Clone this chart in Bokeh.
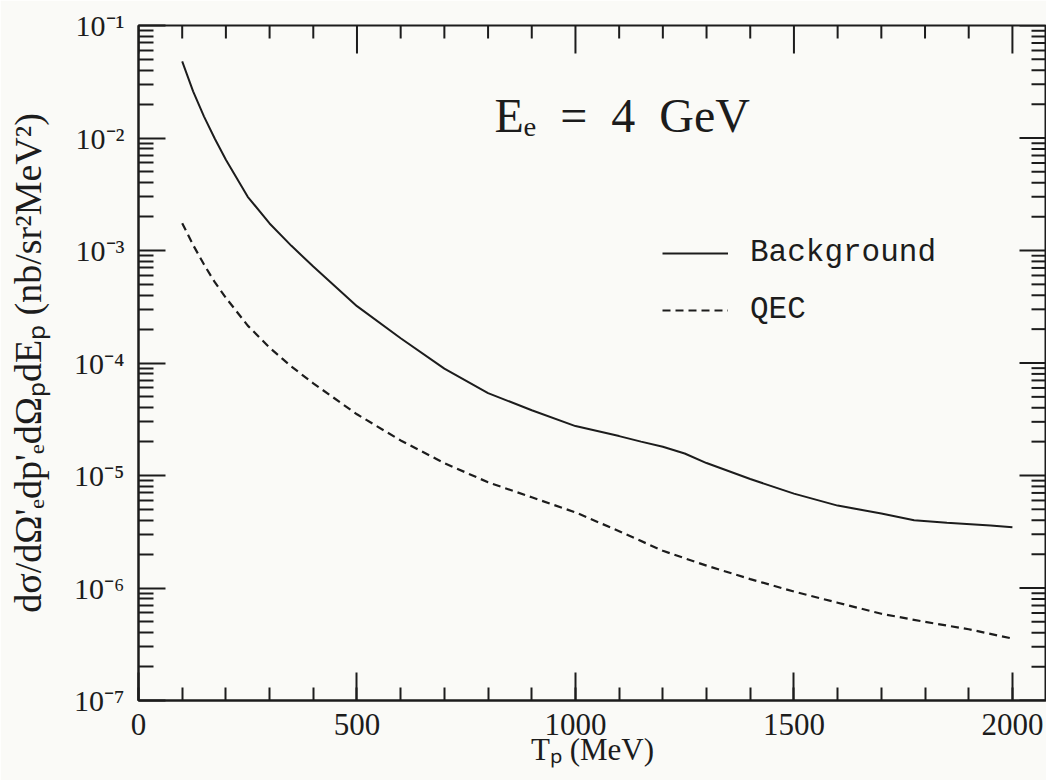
import math
from bokeh.plotting import figure
from bokeh.models import FixedTicker, Legend, LegendItem, Label
from bokeh.embed import file_html
from bokeh.resources import INLINE

# ---- data ----
tp_background = [100, 125, 150, 175, 200, 250, 300, 350, 400, 500, 600, 700, 800, 900,
                 1000, 1100, 1150, 1200, 1250, 1300, 1400, 1500, 1600, 1700, 1775, 1850,
                 1950, 2000]
background = [4.8e-2, 2.6e-2, 1.55e-2, 9.8e-3, 6.4e-3, 3.0e-3, 1.74e-3, 1.1e-3, 7.2e-4,
              3.2e-4, 1.66e-4, 8.9e-5, 5.4e-5, 3.8e-5, 2.75e-5, 2.24e-5, 2.0e-5, 1.8e-5,
              1.57e-5, 1.29e-5, 9.3e-6, 6.9e-6, 5.4e-6, 4.6e-6, 4.0e-6, 3.8e-6, 3.6e-6,
              3.47e-6]

tp_qec = [100, 125, 150, 175, 200, 250, 300, 350, 400, 500, 600, 700, 800, 900, 1000,
          1100, 1200, 1300, 1400, 1500, 1600, 1700, 1800, 1900, 2000]
qec = [1.75e-3, 1.12e-3, 7.5e-4, 5.2e-4, 3.8e-4, 2.15e-4, 1.37e-4, 9.3e-5, 6.6e-5,
       3.5e-5, 2.05e-5, 1.29e-5, 8.7e-6, 6.4e-6, 4.7e-6, 3.2e-6, 2.14e-6, 1.58e-6,
       1.2e-6, 9.3e-7, 7.4e-7, 5.9e-7, 5.0e-7, 4.3e-7, 3.55e-7]

x_major_ticks = [0, 500, 1000, 1500, 2000]
x_minor_ticks = list(range(0, 2100, 100))
y_major_ticks = [1e-7, 1e-6, 1e-5, 1e-4, 1e-3, 1e-2, 1e-1]
y_tick_labels = ["10\u207b\u2077", "10\u207b\u2076", "10\u207b\u2075", "10\u207b\u2074",
                 "10\u207b\u00b3", "10\u207b\u00b2", "10\u207b\u00b9"]
y_minor_ticks = [m * 10.0 ** k for k in range(-7, -1) for m in range(2, 10)]

series_names = ["Background", "QEC"]
title_text = "E\u2091 \u00a0=\u00a0 4\u00a0 GeV"
x_label = "T\u209a (MeV)"
y_label = "d\u03c3/d\u03a9'\u2091dp'\u2091d\u03a9\u209adE\u209a (nb/sr\u00b2MeV\u00b2)"

# ---- styling / layout ----
ink = "#1c1c1c"
paper = "#fafaf7"
serif = "Liberation Serif"
mono = "Liberation Mono"
X_START, X_END = 0, 2078
Y_START, Y_END = 1e-7, 1e-1

p = figure(width=1046, height=780, x_range=(X_START, X_END), y_range=(Y_START, Y_END),
           y_axis_type="log", output_backend="svg", toolbar_location=None,
           min_border_left=138, min_border_top=25, min_border_bottom=80,
           min_border_right=0)
p.background_fill_color = paper
p.border_fill_color = paper
p.outline_line_color = ink
p.outline_line_width = 2
p.grid.visible = False

r_bg = p.line(tp_background, background, line_color=ink, line_width=2)
r_qec = p.line(tp_qec, qec, line_color=ink, line_width=2.2, line_dash="8 5")

xt = FixedTicker(ticks=x_major_ticks, minor_ticks=x_minor_ticks)
yt = FixedTicker(ticks=y_major_ticks, minor_ticks=y_minor_ticks)


def style(ax):
    ax.axis_line_color = ink
    ax.axis_line_width = 2
    ax.major_tick_line_color = ink
    ax.minor_tick_line_color = ink
    ax.major_tick_line_width = 2
    ax.minor_tick_line_width = 2
    ax.major_tick_out = 0
    ax.minor_tick_out = 0


xa = p.xaxis[0]
xa.ticker = xt
style(xa)
xa.major_tick_in = 28
xa.minor_tick_in = 13
xa.major_label_text_font = serif
xa.major_label_text_font_size = "31px"
xa.major_label_text_color = ink
xa.major_label_standoff = 13
xa.axis_label = x_label
xa.axis_label_text_font = serif
xa.axis_label_text_font_style = "normal"
xa.axis_label_text_font_size = "31px"
xa.axis_label_text_color = ink
xa.axis_label_standoff = -6

ya = p.yaxis[0]
ya.ticker = yt
style(ya)
ya.major_tick_in = 27
ya.minor_tick_in = 15
ya.major_label_overrides = {t: s for t, s in zip(y_major_ticks, y_tick_labels)}
ya.major_label_text_font = serif
ya.major_label_text_font_size = "30px"
ya.major_label_text_color = ink
ya.major_label_standoff = 14
ya.axis_label = y_label
ya.axis_label_text_font = serif
ya.axis_label_text_font_style = "normal"
ya.axis_label_text_font_size = "38px"
ya.axis_label_text_color = ink
ya.axis_label_standoff = 22

# inward ticks on the top and right frame edges (half of each dash is clipped by the frame)
x_minor_only = [t for t in x_minor_ticks if t not in x_major_ticks]
p.scatter(x_major_ticks, [Y_END] * len(x_major_ticks), marker="dash", size=56,
          angle=math.pi / 2, line_color=ink, line_width=2)
p.scatter(x_minor_only, [Y_END] * len(x_minor_only), marker="dash", size=26,
          angle=math.pi / 2, line_color=ink, line_width=2)
p.scatter([X_END] * len(y_major_ticks), y_major_ticks, marker="dash", size=54,
          line_color=ink, line_width=2)
p.scatter([X_END] * len(y_minor_ticks), y_minor_ticks, marker="dash", size=30,
          line_color=ink, line_width=2)

legend = Legend(items=[LegendItem(label=series_names[0], renderers=[r_bg]),
                       LegendItem(label=series_names[1], renderers=[r_qec])],
                location=(524, 373), label_text_font=mono, label_text_font_size="31px",
                label_text_color=ink, glyph_width=66, glyph_height=30, label_height=30,
                label_standoff=22, spacing=22, padding=0, margin=0,
                border_line_alpha=0, background_fill_alpha=0)
p.add_layout(legend)

p.add_layout(Label(x=1107, y=1.6e-2, text=title_text, text_font=serif,
                   text_font_size="48px", text_color=ink, text_align="center",
                   text_baseline="middle"))

open("out.html", "w").write(file_html(p, INLINE))
